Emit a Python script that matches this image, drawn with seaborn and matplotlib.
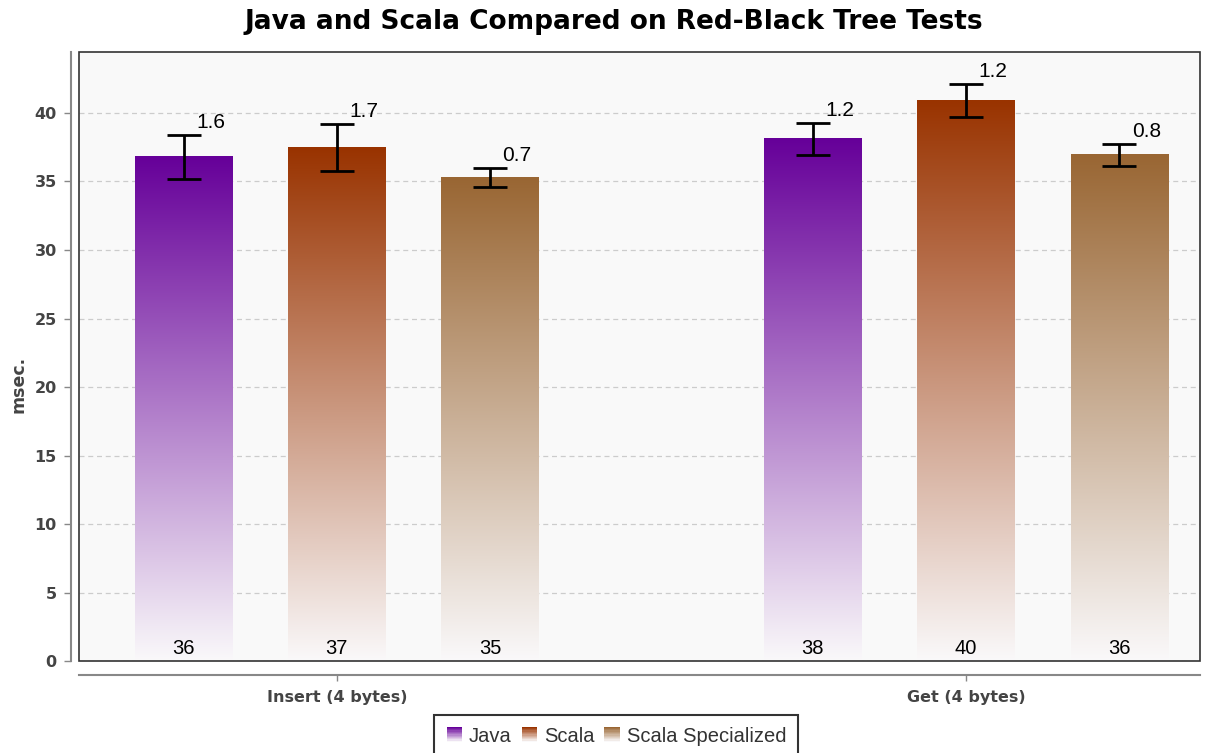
import numpy as np
import pandas as pd
import matplotlib
matplotlib.use('Agg')
import matplotlib.pyplot as plt
import matplotlib.colors as mcolors
from matplotlib.patches import Rectangle
from matplotlib.legend_handler import HandlerBase
import seaborn as sns

tests = ['Insert (4 bytes)', 'Get (4 bytes)']
impls = ['Java', 'Scala', 'Scala Specialized']
java_ms = [36.8, 38.1]
scala_ms = [37.5, 40.9]
spec_ms = [35.3, 36.96]
java_err = [1.6, 1.2]
scala_err = [1.7, 1.2]
spec_err = [0.7, 0.8]
colors = ['#660099', '#993300', '#996633']

rows = []
for impl, vals, errs in zip(impls, [java_ms, scala_ms, spec_ms], [java_err, scala_err, spec_err]):
    for t, v, e in zip(tests, vals, errs):
        rows.append({'test': t, 'impl': impl, 'msec': v, 'err': e})
data = pd.DataFrame(rows)

sns.set_style('white')
plt.rcParams['font.family'] = ['Liberation Sans', 'DejaVu Sans']
bold_font = 'DejaVu Sans'

fig = plt.figure(figsize=(12.14, 7.53), dpi=100)
ax = fig.add_axes([0.065, 0.122, 0.9235, 0.809])
ax.set_facecolor('#f9f9f9')

sns.barplot(data=data, x='test', y='msec', hue='impl', hue_order=impls,
            palette=colors, width=0.73, gap=0.366, errorbar=None, ax=ax, legend=False)


def gradient_img(color, n=256):
    rgb = np.array(mcolors.to_rgb(color))
    white = np.array([0.98, 0.975, 0.98])
    t = np.linspace(0, 1, n)[:, None]  # 0 bottom -> 1 top
    arr = white * (1 - t) + rgb * t
    return arr[:, None, :]


bar_conts = list(ax.containers)
for i, cont in enumerate(bar_conts):
    impl = impls[i]
    sub = data[data['impl'] == impl]
    for bar, (_, row) in zip(cont, sub.iterrows()):
        x0, w, h = bar.get_x(), bar.get_width(), bar.get_height()
        bar.set_facecolor('none')
        bar.set_edgecolor('none')
        ax.imshow(gradient_img(colors[i]), extent=[x0, x0 + w, 0, h], origin='lower',
                  aspect='auto', zorder=2, interpolation='bilinear')
        cx = x0 + w / 2
        ax.errorbar(cx, h, yerr=row['err'], fmt='none', ecolor='black', elinewidth=2,
                    capsize=12, capthick=2, zorder=4)
        ax.text(cx + 0.02, h + row['err'] + 0.2, f"{row['err']:.1f}", fontsize=15,
                ha='left', va='bottom', color='black', zorder=5)
        ax.text(cx, 0.25, f"{int(row['msec'])}", fontsize=14.5, ha='center', va='bottom',
                color='black', zorder=5)

ax.set_xlim(-0.41, 1.372)
ax.set_ylim(0, 44.45)

ax.set_yticks(range(0, 45, 5))
ax.yaxis.grid(True, linestyle=(0, (4, 3)), color='#cccccc', linewidth=0.9)
ax.set_axisbelow(True)

for s in ['top', 'right']:
    ax.spines[s].set_visible(False)
ax.spines['left'].set_position(('outward', 6))
ax.spines['bottom'].set_position(('outward', 10))
ax.spines['left'].set_color('#888888')
ax.spines['bottom'].set_color('#888888')
ax.spines['left'].set_linewidth(1.5)
ax.spines['bottom'].set_linewidth(1.5)
ax.add_patch(Rectangle((0, 0), 1, 1, transform=ax.transAxes, fill=False,
                       edgecolor='#333333', linewidth=1.2, clip_on=False, zorder=6))

ax.tick_params(axis='y', length=5, width=1, color='#888888', labelsize=11.5,
               labelcolor='#444444', left=True, pad=5)
ax.tick_params(axis='x', length=4, width=1, color='#888888', labelsize=11.5,
               labelcolor='#444444', bottom=True, pad=7)
for lab in ax.get_yticklabels() + ax.get_xticklabels():
    lab.set_fontweight('bold')
    lab.set_family(bold_font)

ax.set_xlabel('')
ax.set_ylabel('msec.', fontsize=12.5, fontweight='bold', color='#444444', labelpad=10,
              family=bold_font)
ax.yaxis.set_label_coords(-0.0455, 0.454)
fig.text(0.506, 1 - 22 / 753, 'Java and Scala Compared on Red-Black Tree Tests',
         fontsize=19, fontweight='bold', ha='center', va='center', color='black',
         family=bold_font)


class GradientHandler(HandlerBase):
    def __init__(self, color):
        super().__init__()
        self.color = color

    def create_artists(self, legend, orig_handle, xdescent, ydescent, width, height,
                       fontsize, trans):
        rgb = np.array(mcolors.to_rgb(self.color))
        white = np.array([0.98, 0.975, 0.98])
        n = 12
        side = height * 1.1
        x0 = -xdescent + (width - side) / 2
        y0 = -ydescent
        arts = []
        for k in range(n):
            t = 1 - k / (n - 1)
            c = white * (1 - t) + rgb * t
            arts.append(Rectangle((x0, y0 + side - (k + 1) * side / n), side, side / n,
                                  facecolor=c, edgecolor='none', transform=trans))
        return arts


handles = [Rectangle((0, 0), 1, 1, label=name) for name in impls]
leg = fig.legend(handles=handles, labels=impls, loc='upper center',
                 bbox_to_anchor=(0.5075, 1 - 715 / 753), ncol=3, frameon=True, fancybox=False,
                 fontsize=14.5, handlelength=0.85, handletextpad=0.3, columnspacing=0.45,
                 borderpad=0.6, borderaxespad=0,
                 handler_map={h: GradientHandler(c) for h, c in zip(handles, colors)})
leg.get_frame().set_edgecolor('black')
leg.get_frame().set_linewidth(1.5)
for t in leg.get_texts():
    t.set_color('#333333')

fig.savefig('out.png', dpi=100)
